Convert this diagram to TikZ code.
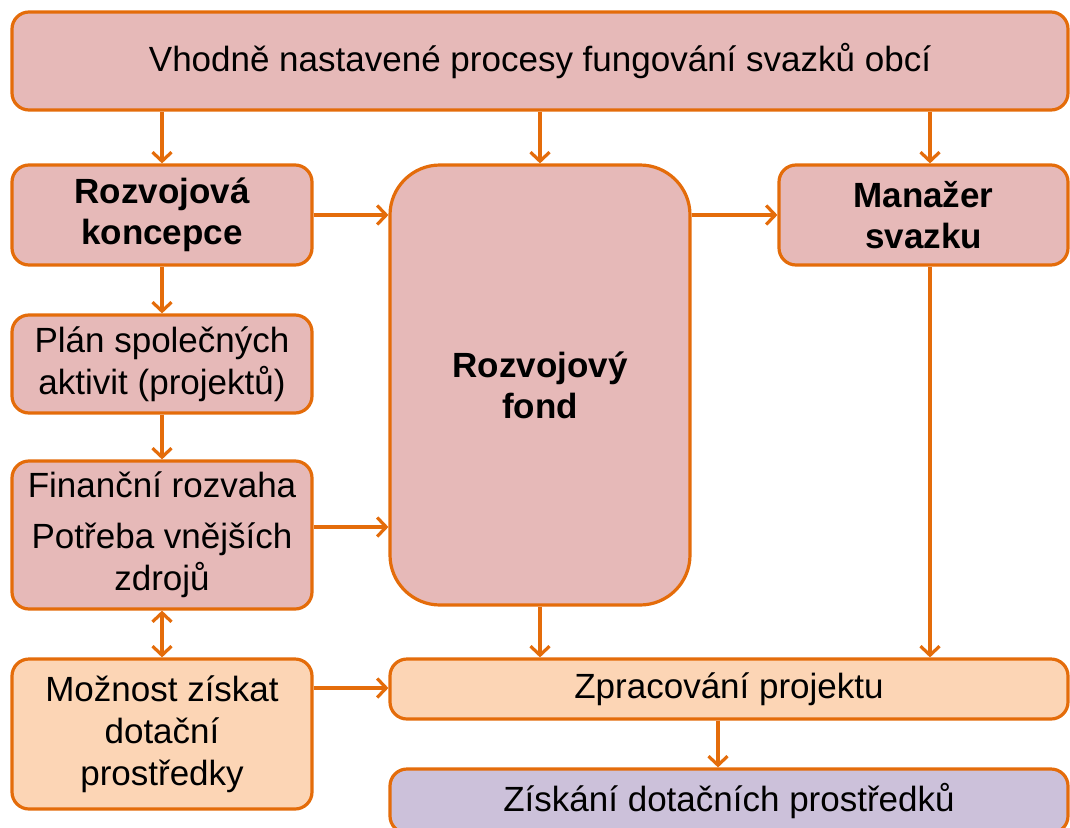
\documentclass[tikz,border=0pt]{standalone}
\usepackage{fontspec}
\setmainfont{Liberation Sans}
\usetikzlibrary{arrows.meta}
\definecolor{boxor}{HTML}{E46C0A}
\definecolor{pinkf}{HTML}{E6B9B8}
\definecolor{peachf}{HTML}{FCD5B5}
\definecolor{purpf}{HTML}{CCC1DA}
\tikzset{
  base/.style={draw=boxor, line width=3.2pt, rounded corners=17pt, align=center, inner sep=0pt, font=\fontsize{35}{42}\selectfont},
  boldtxt/.style={font=\fontsize{35}{41}\selectfont\bfseries},
  pinkbox/.style={base, fill=pinkf},
  peachbox/.style={base, fill=peachf},
  purpbox/.style={base, fill=purpf},
  conn/.style={draw=boxor, line width=3.2pt, -{Straight Barb[length=9pt,width=19pt,line width=3.2pt]}},
  conn2/.style={draw=boxor, line width=3.2pt, {Straight Barb[length=9pt,width=19pt,line width=3.2pt]}-{Straight Barb[length=9pt,width=19pt,line width=3.2pt]}}
}
\begin{document}
\begin{tikzpicture}[x=1pt,y=-1pt]
\useasboundingbox (0,0) rectangle (1070,827);
\begin{scope}
\clip (0,0) rectangle (1070,827);
\node[pinkbox, minimum width=1056pt, minimum height=98pt] (top) at (540,61) {Vhodně nastavené procesy fungování svazků obcí};
\node[pinkbox, boldtxt, minimum width=300pt, minimum height=100pt] (rk) at (162,215) {Rozvojová\\koncepce};
\node[pinkbox, minimum width=300pt, minimum height=98pt] (plan) at (162,364) {Plán společných\\aktivit (projektů)};
\node[pinkbox, minimum width=300pt, minimum height=148pt] (fin) at (162,535) {Finanční rozvaha\\[9pt]Potřeba vnějších\\zdrojů};
\node[peachbox, minimum width=300pt, minimum height=150pt] (mozn) at (162,734) {Možnost získat\\dotační\\prostředky};
\node[pinkbox, boldtxt, rounded corners=50pt, minimum width=300pt, minimum height=440pt] (fond) at (540,385) {Rozvojový\\fond};
\node[pinkbox, boldtxt, minimum width=289pt, minimum height=100pt] (man) at (923.5,215) {Manažer\\svazku};
\node[peachbox, minimum width=678pt, minimum height=60pt] (zpr) at (729,689) {Zpracování projektu};
\node[purpbox, minimum width=678pt, minimum height=64pt] (zisk) at (729,801) {Získání dotačních prostředků};
\end{scope}
\draw[conn] (top.south -| rk) -- (rk.north);
\draw[conn] (top.south -| fond) -- (fond.north);
\draw[conn] (top.south -| 930,0) -- (man.north -| 930,0);
\draw[conn] (rk.east) -- (rk.east -| fond.west);
\draw[conn] (fond.east |- man) -- (man.west);
\draw[conn] (rk.south) -- (plan.north);
\draw[conn] (plan.south) -- (fin.north);
\draw[conn] (fin.east |- 0,527) -- (fond.west |- 0,527);
\draw[conn2] (fin.south) -- (mozn.north);
\draw[conn] (mozn.east |- 0,688) -- (zpr.west |- 0,688);
\draw[conn] (fond.south) -- (zpr.north -| fond);
\draw[conn] (man.south -| 930,0) -- (zpr.north -| 930,0);
\draw[conn] (zpr.south -| 718,0) -- (zisk.north -| 718,0);
\end{tikzpicture}
\end{document}
